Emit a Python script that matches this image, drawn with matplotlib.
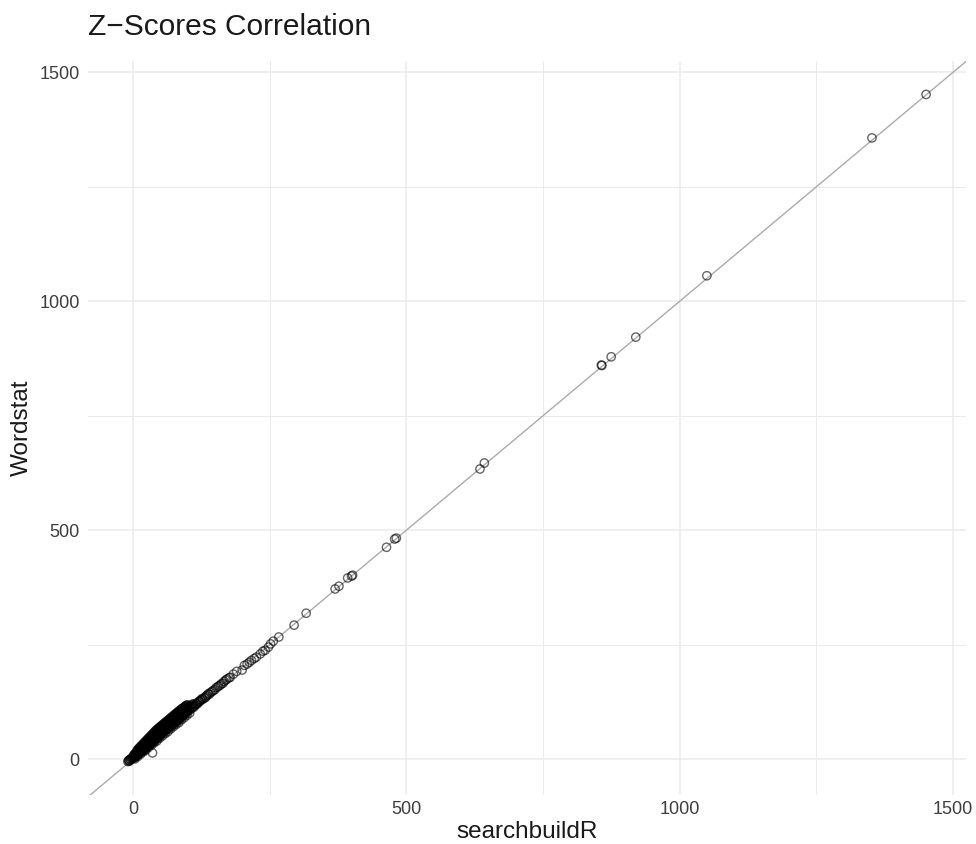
import matplotlib
matplotlib.use("Agg")
import matplotlib.pyplot as plt
from matplotlib.ticker import FixedLocator

plt.rcParams['font.family'] = ['Liberation Sans', 'DejaVu Sans']

# ---- data ----
# dense cluster near the origin (lower layer, close to the diagonal)
blob_x = [-9, -8, -7, -6, -5, -4, -3, -2, -1, 0, 0, 1, 2, 2, 3, 4, 5, 5, 6, 7, 8, 8, 9, 10, 10,
          11, 12, 12, 13, 14, 14, 15, 16, 17, 18, 19, 20, 21, 22, 23, 24, 25, 26, 27, 28, 29,
          30, 31, 32, 33, 34, 35, 36, 37, 38, 39, 40, 41, 42, 43, 44, 45, 46, 47, 48, 49, 50,
          51, 52, 53, 54, 55, 56, 57, 58, 59, 60, 61, 62, 63, 64, 65, 66, 67, 68, 69, 70, 71,
          72, 73, 74, 75, 76, 77, 78, 79, 80, 81, 82, 83, 84, 85, 86, 87, 88, 89, 90, 91, 92,
          93, 94, 95, 96, 97, 98, 99, 100, 102, 104, 106, 108, 110, 112, 115, 36]
blob_y = [-5, -3, -2, -4, 0, -1, 2, 1, 3, 2, 5, 4, 6, 3, 7, 5, 9, 6, 8, 11, 9, 13, 12, 11, 15,
          14, 13, 17, 16, 15, 20, 18, 17, 22, 20, 19, 24, 22, 27, 25, 24, 29, 27, 31, 29, 34,
          32, 31, 37, 35, 40, 38, 36, 42, 40, 45, 43, 41, 48, 46, 50, 47, 46, 53, 51, 57, 54,
          52, 59, 57, 62, 59, 57, 64, 62, 67, 64, 62, 70, 67, 72, 69, 67, 75, 72, 78, 74, 72,
          80, 77, 83, 79, 77, 85, 82, 87, 84, 82, 89, 87, 92, 88, 87, 94, 92, 97, 95, 93, 99,
          97, 101, 100, 98, 104, 102, 106, 104, 108, 107, 111, 112, 115, 114, 119, 14]

# dense cluster, just under the diagonal
low_x = [4, 9, 14, 19, 24, 29, 34, 39, 44, 49, 54, 59, 64, 69, 74, 79, 84, 89, 94, 99, 104]
low_y = [1, 6, 11, 16, 20, 26, 31, 36, 40, 46, 51, 56, 60, 66, 71, 76, 80, 86, 91, 96, 101]

# dense cluster, middle layer
mid_x = [3, 6, 9, 12, 15, 18, 21, 24, 27, 30, 33, 36, 39, 42, 45, 48, 51, 54, 57, 60, 63, 66,
         69, 72, 75, 78, 81, 84, 87, 90, 93, 96, 99, 101, 103, 105, 107, 109, 111]
mid_y = [10, 14, 17, 21, 24, 27, 31, 34, 37, 41, 44, 47, 51, 54, 57, 61, 64, 67, 71, 74, 77, 80,
         83, 86, 89, 92, 95, 98, 100, 103, 106, 108, 111, 112, 114, 116, 117, 120, 121]

# dense cluster, upper layers
top_x = [2, 4, 6, 8, 10, 12, 14, 16, 18, 20, 22, 24, 26, 28, 30, 32, 34, 36, 38, 40, 42, 44,
         46, 48, 50, 52, 54, 56, 58, 60, 62, 64, 66, 68, 70, 72, 74, 76, 78, 80, 82, 84, 86,
         88, 90, 92, 94, 96, 98, 100]
top_y = [10, 12, 15, 17, 19, 22, 24, 26, 29, 31, 34, 36, 38, 41, 43, 46, 48, 50, 53, 55, 58, 60,
         62, 65, 67, 69, 71, 73, 75, 77, 79, 81, 83, 85, 87, 89, 91, 93, 95, 97, 99, 101, 103,
         105, 107, 109, 111, 113, 115, 117]
top2_x = [8, 10, 12, 14, 16, 18, 20, 22, 24, 26, 28, 30, 32, 34, 36, 38, 40, 42, 44, 46, 48, 50,
          52, 54, 56, 58, 60, 62, 64, 66, 68, 70, 72, 74, 76, 78, 80, 82, 84, 86, 88, 90, 92,
          94, 96, 98, 100]
top2_y = [20, 23, 25, 28, 30, 33, 35, 38, 40, 43, 45, 48, 50, 53, 55, 58, 60, 63, 65, 67, 69, 71,
          73, 75, 77, 79, 81, 83, 85, 87, 89, 91, 93, 95, 97, 99, 101, 103, 105, 107, 109, 111,
          112, 114, 116, 118, 119]

# sparser points along the diagonal
chain_x = [113, 116, 118, 119, 121, 122, 124, 125, 127, 128, 131, 133, 134, 136, 138, 140, 142,
           145, 147, 150, 152, 155, 157, 160, 162, 165, 167, 170, 172, 176, 178,
           184, 190, 200, 204, 209, 213, 217, 222, 226, 233, 238, 242, 248, 252, 257, 267, 295]
chain_y = [118, 122, 121, 124, 126, 126, 129, 130, 133, 131, 134, 135, 138, 140, 143, 142, 146,
           148, 150, 152, 156, 158, 160, 162, 165, 166, 170, 173, 175, 178, 179,
           186, 192, 195, 205, 208, 212, 216, 220, 223, 230, 236, 238, 245, 252, 258, 267, 293]

# large values
big_x = [317, 370, 377, 393, 400, 402, 464, 479, 482, 635, 643, 857, 858, 875, 920, 1050, 1352, 1451]
big_y = [319, 372, 378, 396, 400, 402, 463, 481, 483, 634, 647, 861, 860, 879, 922, 1056, 1357, 1452]

x_ticks = [0, 500, 1000, 1500]
y_ticks = [0, 500, 1000, 1500]
x_minor = [250, 750, 1250]
y_minor = [250, 750, 1250]

title = "Z\u2212Scores Correlation"
x_label = "searchbuildR"
y_label = "Wordstat"

xs = blob_x + low_x + mid_x + top_x + top2_x + chain_x + big_x
ys = blob_y + low_y + mid_y + top_y + top2_y + chain_y + big_y

# ---- figure ----
W, H = 976, 844
fig = plt.figure(figsize=(W / 100, H / 100), dpi=100)
L, R, T, B = 88, 966, 61, 795
ax = fig.add_axes([L / W, 1 - B / H, (R - L) / W, (B - T) / H])

ax.set_xlim(-82, 1524)
ax.set_ylim(-78, 1525)

ax.xaxis.set_major_locator(FixedLocator(x_ticks))
ax.yaxis.set_major_locator(FixedLocator(y_ticks))
ax.xaxis.set_minor_locator(FixedLocator(x_minor))
ax.yaxis.set_minor_locator(FixedLocator(y_minor))

ax.grid(which='major', color='#EBEBEB', linewidth=1.1)
ax.grid(which='minor', color='#EBEBEB', linewidth=0.7)
ax.set_axisbelow(True)
for s in ax.spines.values():
    s.set_visible(False)

ax.tick_params(which='both', length=0)
ax.tick_params(axis='x', labelsize=13, labelcolor='#3D3D3D', pad=4)
ax.tick_params(axis='y', labelsize=13, labelcolor='#3D3D3D', pad=6)

ax.axline((0, 0), slope=1, color='#ABABAB', linewidth=1.0, zorder=1)
ax.scatter(xs, ys, s=36, facecolors='none', edgecolors='black',
           linewidths=1.0, alpha=0.6, zorder=2)

ax.set_xlabel(x_label, fontsize=17.5, color='#1A1A1A', va='center')
ax.xaxis.set_label_coords(0.5, (B - 832) / (B - T))
ax.set_ylabel(y_label, fontsize=17.5, color='#1A1A1A', va='center')
ax.yaxis.set_label_coords((22 - L) / (R - L), 0.5)

fig.text(L / W, 1 - 35 / H, title, fontsize=21.5, color='#1A1A1A',
         ha='left', va='baseline')

fig.savefig("out.png", dpi=100, facecolor='white')
